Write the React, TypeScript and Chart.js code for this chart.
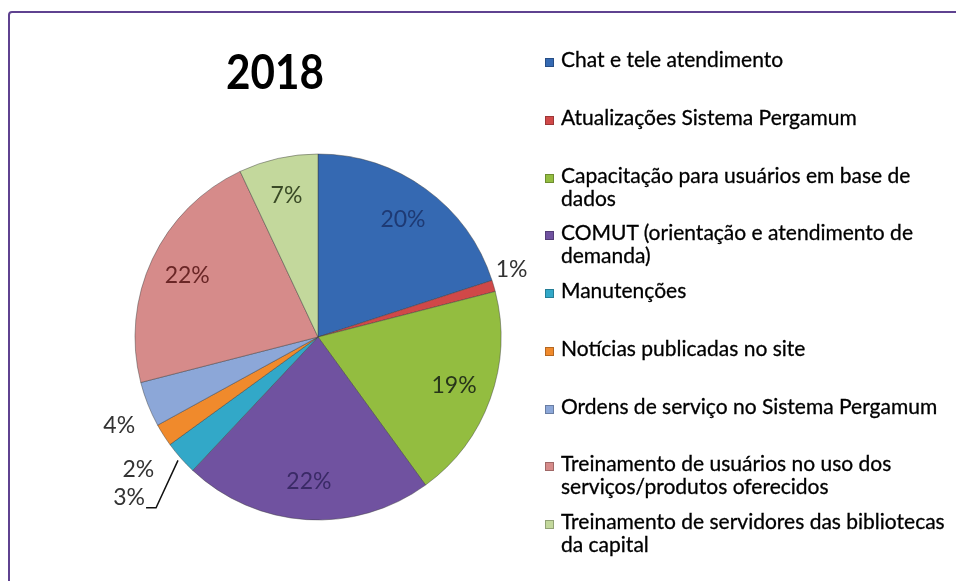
import React, { useEffect, useRef } from 'react';
import { Chart, registerables } from 'chart.js';

Chart.register(...registerables);

const TITLE = '2018';

const categories: string[][] = [
  ['Chat e tele atendimento'],
  ['Atualizações Sistema Pergamum'],
  ['Capacitação para usuários em base de', 'dados'],
  ['COMUT (orientação e atendimento de', 'demanda)'],
  ['Manutenções'],
  ['Notícias publicadas no site'],
  ['Ordens de serviço no Sistema Pergamum'],
  ['Treinamento de usuários no uso dos', 'serviços/produtos oferecidos'],
  ['Treinamento de servidores das bibliotecas', 'da capital'],
];

const percentages = [20, 1, 19, 22, 3, 2, 4, 22, 7];

const sliceColors = [
  '#3569B2',
  '#D04848',
  '#93BD40',
  '#7052A0',
  '#32A8C8',
  '#F08A2C',
  '#8CA7D8',
  '#D68B8A',
  '#C3D89C',
];

const labelColors = [
  '#1E3A74',
  '#333333',
  '#27351A',
  '#3A2A66',
  '#333333',
  '#333333',
  '#333333',
  '#6A2626',
  '#3A4A26',
];

// label layout (style): slices placed outside the pie, radius factor and angle nudge in degrees
const outsideLayout: Record<number, { r: number; dDeg: number; leader?: boolean }> = {
  1: { r: 1.12, dDeg: -3 },
  4: { r: 1.355, dDeg: 1, leader: true },
  5: { r: 1.22, dDeg: -4 },
  6: { r: 1.19, dDeg: -2.5 },
};
const INSIDE_R = 0.79;

const sliceLabelPlugin = {
  id: 'sliceLabels',
  afterDatasetsDraw(chart: any) {
    const ctx = chart.ctx as CanvasRenderingContext2D;
    const meta = chart.getDatasetMeta(0);
    const values = chart.data.datasets[0].data as number[];
    ctx.save();
    ctx.font = '23px Lato, "Open Sans", sans-serif';
    ctx.textAlign = 'center';
    ctx.textBaseline = 'middle';
    meta.data.forEach((arc: any, i: number) => {
      const { x, y, startAngle, endAngle, outerRadius } = arc.getProps(
        ['x', 'y', 'startAngle', 'endAngle', 'outerRadius'],
        true
      );
      const mid = (startAngle + endAngle) / 2;
      const text = `${values[i]}%`;
      const out = outsideLayout[i];
      if (out) {
        const a = mid + (out.dDeg * Math.PI) / 180;
        const lx = x + Math.cos(a) * outerRadius * out.r;
        const ly = y + Math.sin(a) * outerRadius * out.r;
        ctx.fillStyle = '#333333';
        ctx.fillText(text, lx, ly);
        if (out.leader) {
          const w = ctx.measureText(text).width;
          const sx = lx + w / 2 + 1;
          const sy = ly + 10;
          const ex = x + Math.cos(mid) * outerRadius * 1.02;
          const ey = y + Math.sin(mid) * outerRadius * 1.02;
          ctx.strokeStyle = '#111111';
          ctx.lineWidth = 1.5;
          ctx.beginPath();
          ctx.moveTo(sx, sy);
          ctx.lineTo(sx + 10, sy);
          ctx.lineTo(ex, ey);
          ctx.stroke();
        }
      } else {
        const lx = x + Math.cos(mid) * outerRadius * INSIDE_R;
        const ly = y + Math.sin(mid) * outerRadius * INSIDE_R;
        ctx.fillStyle = labelColors[i];
        ctx.fillText(text, lx, ly);
      }
    });
    ctx.restore();
  },
};

const W = 956;
const H = 581;

export default function App() {
  const canvasRef = useRef<HTMLCanvasElement | null>(null);

  useEffect(() => {
    if (!canvasRef.current) return;
    const chart = new Chart(canvasRef.current, {
      type: 'pie',
      data: {
        labels: categories.map((c) => c.join(' ')),
        datasets: [
          {
            data: percentages,
            backgroundColor: sliceColors,
            borderColor: 'rgba(60,60,60,0.45)',
            borderWidth: 1,
          },
        ],
      },
      options: {
        responsive: false,
        animation: false,
        devicePixelRatio: 1,
        layout: { padding: { left: 134.5, top: 153.5, right: 454.5, bottom: 60.5 } },
        plugins: {
          legend: { display: false },
          title: { display: false },
          tooltip: { enabled: false },
        },
      },
      plugins: [sliceLabelPlugin],
    });
    return () => chart.destroy();
  }, []);

  const slot = 57.75;

  return (
    <div
      style={{
        position: 'fixed',
        left: 0,
        top: 0,
        width: W,
        height: H,
        overflow: 'hidden',
        background: '#ffffff',
        fontFamily: 'Lato, "Open Sans", sans-serif',
      }}
    >
      <div
        style={{
          position: 'absolute',
          left: 8,
          top: 11,
          width: 1000,
          height: 1000,
          border: '2px solid #5F4290',
          borderRadius: 4,
          boxSizing: 'border-box',
        }}
      />
      <canvas
        ref={canvasRef}
        width={W}
        height={H}
        style={{ position: 'absolute', left: 0, top: 0, width: W, height: H }}
      />
      <div
        style={{
          position: 'absolute',
          left: 175,
          top: 47,
          width: 200,
          textAlign: 'center',
          fontWeight: 700,
          fontSize: 48,
          lineHeight: '48px',
          color: '#000',
          transform: 'scaleX(0.88)',
        }}
      >
        {TITLE}
      </div>
      {categories.map((lines, i) => (
        <div
          key={i}
          style={{
            position: 'absolute',
            left: 545,
            top: 47 + i * slot,
            fontSize: 21,
            lineHeight: '23px',
            color: '#000',
            whiteSpace: 'nowrap',
            WebkitTextStroke: '0.3px #000',
          }}
        >
          <span
            style={{
              position: 'absolute',
              left: 0,
              top: 11,
              width: 9,
              height: 9,
              background: sliceColors[i],
              border: '1px solid rgba(0,0,0,0.25)',
              boxSizing: 'border-box',
            }}
          />
          <div style={{ marginLeft: 16 }}>
            {lines.map((l, j) => (
              <div key={j}>{l}</div>
            ))}
          </div>
        </div>
      ))}
    </div>
  );
}
